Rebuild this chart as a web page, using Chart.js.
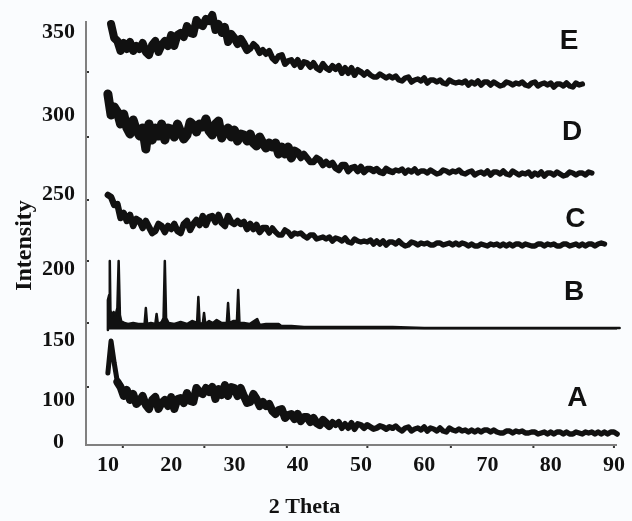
<!DOCTYPE html>
<html>
<head>
<meta charset="utf-8">
<title>XRD patterns A-E</title>
<script src="https://cdn.jsdelivr.net/npm/chart.js"></script>
<style>
  html, body { margin: 0; padding: 0; background: #fafcfe; }
  canvas { display: block; }
</style>
</head>
<body>
<canvas id="xrdChart" width="632" height="521"></canvas>
<script>
// 2 theta grid (0.5 deg steps) shared by the broad patterns A, C, D, E
const theta = [
  10, 10.5, 11, 11.5, 12, 12.5, 13, 13.5, 14, 14.5,
  15, 15.5, 16, 16.5, 17, 17.5, 18, 18.5, 19, 19.5,
  20, 20.5, 21, 21.5, 22, 22.5, 23, 23.5, 24, 24.5,
  25, 25.5, 26, 26.5, 27, 27.5, 28, 28.5, 29, 29.5,
  30, 30.5, 31, 31.5, 32, 32.5, 33, 33.5, 34, 34.5,
  35, 35.5, 36, 36.5, 37, 37.5, 38, 38.5, 39, 39.5,
  40, 40.5, 41, 41.5, 42, 42.5, 43, 43.5, 44, 44.5,
  45, 45.5, 46, 46.5, 47, 47.5, 48, 48.5, 49, 49.5,
  50, 50.5, 51, 51.5, 52, 52.5, 53, 53.5, 54, 54.5,
  55, 55.5, 56, 56.5, 57, 57.5, 58, 58.5, 59, 59.5,
  60, 60.5, 61, 61.5, 62, 62.5, 63, 63.5, 64, 64.5,
  65, 65.5, 66, 66.5, 67, 67.5, 68, 68.5, 69, 69.5,
  70, 70.5, 71, 71.5, 72, 72.5, 73, 73.5, 74, 74.5,
  75, 75.5, 76, 76.5, 77, 77.5, 78, 78.5, 79, 79.5,
  80, 80.5, 81, 81.5, 82, 82.5, 83, 83.5, 84, 84.5,
  85, 85.5, 86, 86.5, 87, 87.5, 88, 88.5, 89, 89.5,
  90, 90.5, 91, 91.5, 92
];

// intensities, in the (unevenly labelled) units of the vertical axis
const curveA = [
  72, 104, 82, 63, 58, 49, 55, 45, 51, 41,
  44, 49, 40, 36, 45, 48, 36, 42, 45, 39,
  48, 36, 46, 47, 42, 52, 44, 43, 57, 53,
  51, 57, 53, 58, 46, 56, 50, 60, 49, 58,
  57, 49, 57, 49, 42, 43, 51, 46, 39, 43,
  39, 41, 34, 31, 35, 36, 27, 30, 31, 26,
  31, 24, 28, 28, 23, 27, 22, 20, 25, 22,
  19, 23, 20, 23, 17, 21, 17, 22, 16, 21,
  20, 17, 20, 18, 16, 17, 19, 18, 16, 18,
  17, 19, 16, 14, 17, 18, 14, 16, 17, 15,
  18, 14, 17, 16, 14, 17, 14, 13, 17, 15,
  14, 16, 14, 15, 13, 15, 13, 15, 13, 15,
  15, 13, 15, 13, 12, 12, 14, 14, 12, 14,
  13, 14, 12, 12, 13, 13, 11, 12, 13, 11,
  13, 11, 13, 13, 11, 13, 11, 11, 13, 12,
  11, 13, 12, 13, 11, 13, 11, 13, 11, 13,
  13, 11, 12, 12, 11
];

const curveC = [
  250, 248, 240, 241, 227, 232, 224, 230, 219, 226,
  224, 217, 224, 218, 212, 214, 221, 219, 213, 219,
  216, 221, 214, 212, 221, 224, 215, 221, 225, 220,
  229, 220, 228, 229, 223, 230, 222, 219, 229, 223,
  221, 224, 221, 223, 216, 221, 216, 220, 213, 217,
  217, 212, 217, 213, 210, 210, 215, 213, 209, 212,
  211, 212, 209, 207, 210, 210, 206, 207, 208, 206,
  208, 204, 207, 206, 204, 207, 203, 202, 206, 204,
  203, 204, 203, 205, 201, 204, 201, 204, 200, 203,
  203, 201, 204, 201, 199, 200, 203, 202, 200, 202,
  201, 202, 200, 200, 202, 202, 200, 201, 202, 200,
  202, 200, 202, 201, 199, 201, 199, 199, 201, 200,
  199, 201, 200, 201, 199, 201, 199, 201, 199, 201,
  201, 199, 201, 200, 199, 199, 201, 201, 199, 201,
  200, 201, 199, 199, 201, 201, 199, 200, 201, 199,
  201, 199, 201, 201, 199, 201, 202, 201, null, null,
  null, null, null, null, null
];

const curveD = [
  351, 330, 338, 333, 321, 331, 317, 311, 325, 315,
  309, 317, 296, 321, 305, 317, 309, 321, 305, 317,
  316, 308, 321, 313, 306, 310, 323, 320, 313, 321,
  318, 326, 314, 310, 321, 324, 307, 314, 317, 308,
  315, 304, 311, 310, 304, 311, 302, 299, 308, 302,
  297, 302, 298, 302, 291, 298, 291, 298, 287, 294,
  292, 287, 291, 287, 283, 283, 287, 285, 280, 283,
  280, 282, 277, 275, 280, 280, 274, 277, 278, 274,
  278, 273, 276, 276, 274, 276, 273, 272, 276, 274,
  273, 275, 274, 276, 272, 275, 273, 276, 272, 274,
  274, 272, 275, 273, 271, 272, 275, 274, 272, 274,
  273, 275, 272, 271, 273, 274, 270, 272, 273, 271,
  274, 270, 273, 273, 271, 274, 271, 270, 274, 272,
  270, 272, 271, 273, 269, 272, 270, 273, 269, 272,
  272, 270, 273, 271, 269, 270, 273, 272, 270, 272,
  272, 270, 273, 272, null, null, null, null, null, null,
  null, null, null, null, null
];

const curveE = [
  null, 421, 407, 404, 394, 402, 396, 403, 394, 399,
  396, 402, 393, 390, 400, 404, 393, 400, 404, 399,
  410, 399, 410, 412, 408, 419, 412, 411, 425, 421,
  419, 426, 424, 430, 415, 421, 412, 418, 403, 411,
  407, 401, 406, 401, 395, 396, 401, 398, 392, 395,
  391, 394, 387, 384, 389, 390, 381, 384, 385, 380,
  385, 378, 383, 382, 378, 382, 377, 375, 381, 377,
  375, 379, 376, 379, 372, 377, 372, 377, 370, 375,
  373, 370, 373, 370, 368, 368, 371, 369, 367, 369,
  367, 369, 365, 364, 367, 368, 363, 365, 366, 364,
  367, 362, 365, 365, 363, 365, 362, 361, 365, 363,
  362, 363, 362, 364, 360, 363, 361, 364, 360, 363,
  363, 360, 363, 361, 359, 360, 363, 362, 360, 362,
  361, 363, 360, 359, 362, 363, 359, 361, 362, 360,
  362, 358, 361, 361, 359, 362, 359, 358, 362, 360,
  361, null, null, null, null, null, null, null, null, null,
  null, null, null, null, null
];

// crystalline pattern B: sharp reflections on a flat base
const peakTheta = [
  10.0, 10.0, 10.2, 10.3, 10.4, 10.6, 10.9, 11.2, 11.5, 11.7,
  11.9, 12.1, 12.6, 13.2, 14.0, 14.8, 15.8, 16.0, 16.2, 16.8,
  17.5, 17.7, 17.9, 18.5, 18.8, 19.0, 19.2, 19.6, 20.5, 21.5,
  22.5, 23.3, 24.1, 24.3, 24.5, 25.0, 25.2, 25.4, 26.0, 26.6,
  27.2, 28.0, 28.8, 29.0, 29.2, 29.8, 30.4, 30.6, 30.8, 31.5,
  32.4, 33.6, 34.0, 35.0, 37.0, 37.4, 39.0, 41.0, 45.0, 50.0,
  55.0, 60.0, 70.0, 80.0, 90.9
];
const peakCounts = [
  115, 145, 150, 184, 135, 128, 133, 130, 137, 184,
  130, 124, 122, 121, 122, 121, 121, 137, 121, 122,
  121, 131, 121, 123, 127, 184, 127, 122, 121, 123,
  121, 124, 122, 148, 122, 121, 132, 121, 124, 122,
  125, 122, 122, 142, 122, 124, 124, 155, 122, 122,
  121, 126, 120, 121, 121, 119, 119, 118, 118, 118,
  118, 117, 117, 117, 117
];

// axis labelling as printed in the figure
const xTicks = [10, 20, 30, 40, 50, 60, 70, 80, 90];
const yTickAt = [3, 45, 105, 176, 251, 330, 413];
const yTickText = ['0', '100', '150', '200', '250', '300', '350'];
const xMarks = [12.36, 25.25, 38.29, 51.02, 64.22, 77.27, 90.0];
const yMarks = [58, 122, 184, 245, 308, 373];

// sample letters and where they sit
const curveNames = ['A', 'B', 'C', 'D', 'E'];
const nameTheta = [84.2, 83.7, 83.9, 83.4, 82.9];
const nameLevel = [47, 153, 226, 313, 404];

const serif = '"Liberation Serif", "Times New Roman", serif';
const ink = '#111';

function series(ys) {
  const pts = [];
  ys.forEach((v, i) => {
    if (v !== null) pts.push({ x: theta[i], y: v });
  });
  return pts;
}

// the noisy scans are drawn as a heavy stroke; it is heavier where the noise is wide
function pattern(data, widths) {
  return {
    data: data,
    borderColor: ink,
    borderWidth: 5.5,
    borderJoinStyle: 'round',
    borderCapStyle: 'round',
    pointRadius: 0,
    tension: 0,
    clip: false,
    segment: {
      borderWidth: ctx => {
        const t = ctx.p0.parsed.x;
        for (const [upTo, w] of widths) {
          if (t < upTo) return w;
        }
        return 5.5;
      }
    }
  };
}

const peaksB = peakTheta.map((t, i) => ({ x: t, y: peakCounts[i] }));

// letters A-E and the little tick dots on both axes
const extras = {
  id: 'extras',
  afterDatasetsDraw(chart) {
    const { ctx, scales: { x, y } } = chart;
    ctx.save();
    ctx.fillStyle = ink;
    ctx.font = 'bold 28px "Liberation Sans", Arial, sans-serif';
    ctx.textAlign = 'center';
    ctx.textBaseline = 'middle';
    curveNames.forEach((n, i) => {
      ctx.fillText(n, x.getPixelForValue(nameTheta[i]), y.getPixelForValue(nameLevel[i]));
    });
    ctx.fillStyle = '#333';
    xMarks.forEach(v => ctx.fillRect(x.getPixelForValue(v) - 1, y.bottom + 1, 2, 2));
    yMarks.forEach(v => ctx.fillRect(x.left + 1, y.getPixelForValue(v) - 1, 2, 2));
    ctx.restore();
  }
};

new Chart(document.getElementById('xrdChart'), {
  type: 'line',
  data: {
    datasets: [
      pattern(series(curveA), [[11.5, 5], [45, 8], [55, 6]]),
      Object.assign(pattern(peaksB, []), {
        borderWidth: 2.5,
        segment: {},
        fill: { value: 115.5 },
        backgroundColor: ink
      }),
      pattern(series(curveC), [[35, 6.5]]),
      pattern(series(curveD), [[40, 9], [55, 6.5]]),
      pattern(series(curveE), [[32, 8], [50, 6]])
    ]
  },
  options: {
    responsive: false,
    animation: false,
    layout: { padding: { top: 22, right: 12, left: 0, bottom: 0 } },
    plugins: {
      legend: { display: false },
      tooltip: { enabled: false },
      title: {
        display: true,
        text: '2 Theta  ',
        position: 'bottom',
        color: ink,
        font: { family: serif, size: 22, weight: 'bold' },
        padding: { top: 5, bottom: 0 }
      }
    },
    scales: {
      x: {
        type: 'linear',
        min: 6.54,
        max: 90.47,
        grid: { display: false, drawTicks: false },
        border: { color: '#808080', width: 2 },
        ticks: {
          color: ink,
          font: { family: serif, size: 22, weight: 'bold' },
          padding: 7,
          autoSkip: false,
          maxRotation: 0
        },
        afterBuildTicks: s => { s.ticks = xTicks.map(v => ({ value: v })); },
        afterFit: s => { s.height = 44.6; }
      },
      y: {
        type: 'linear',
        min: 0,
        max: 423,
        grid: { display: false, drawTicks: false },
        border: { color: '#808080', width: 2 },
        ticks: {
          color: ink,
          font: { family: serif, size: 22, weight: 'bold' },
          crossAlign: 'center',
          padding: 11,
          autoSkip: false,
          callback: (v, i) => yTickText[i]
        },
        afterBuildTicks: s => { s.ticks = yTickAt.map(v => ({ value: v })); },
        afterFit: s => {
          s.width = 86;
          s.paddingTop = 0;
          s.paddingBottom = 0;
        },
        title: {
          display: true,
          text: 'Intensity    ',
          color: ink,
          font: { family: serif, size: 24, weight: 'bold' },
          padding: { top: 10, bottom: 0 }
        }
      }
    }
  },
  plugins: [extras]
});
</script>
</body>
</html>
